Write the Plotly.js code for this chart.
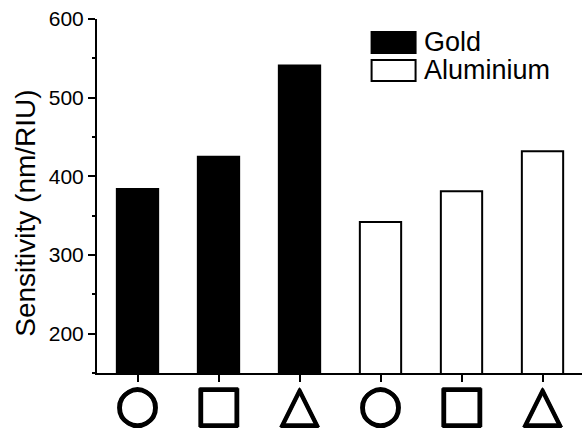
<!DOCTYPE html>
<html>
<head>
<meta charset="utf-8">
<script src="https://cdn.plot.ly/plotly-3.0.1.min.js"></script>
<style>
html, body { margin: 0; padding: 0; overflow: hidden; background: #fff; }
#chart { width: 583px; height: 428px; }
</style>
</head>
<body>
<div id="chart"></div>
<script>
// ---- data ----
var categories = ['gold-circle', 'gold-square', 'gold-triangle', 'al-circle', 'al-square', 'al-triangle'];
var tickLabels = ['\u25CB', '\u25A1', '\u25B3', '\u25CB', '\u25A1', '\u25B3'];
var goldCategories = ['gold-circle', 'gold-square', 'gold-triangle'];
var goldValues = [384, 425, 541];
var aluminiumCategories = ['al-circle', 'al-square', 'al-triangle'];
var aluminiumValues = [342, 381, 432];
var seriesNames = ['Gold', 'Aluminium'];
var yTitle = 'Sensitivity (nm/RIU)';
var yRange = [150, 600];
var yTicks = [200, 300, 400, 500, 600];

var textFont = 'Liberation Sans, Arial, Helvetica, sans-serif';

var traces = [
  {
    type: 'bar', name: seriesNames[0], x: goldCategories, y: goldValues,
    width: 0.51, marker: { color: '#000', line: { color: '#000', width: 2 } },
    showlegend: false, hoverinfo: 'x+y'
  },
  {
    type: 'bar', name: seriesNames[1], x: aluminiumCategories, y: aluminiumValues,
    width: 0.51, marker: { color: '#fff', line: { color: '#000', width: 2 } },
    showlegend: false, hoverinfo: 'x+y'
  }
];

var layout = {
  width: 583, height: 428,
  margin: { l: 97, r: 0, t: 19, b: 55, pad: 0 },
  paper_bgcolor: '#fff', plot_bgcolor: '#fff',
  barmode: 'overlay',
  showlegend: false,
  font: { family: textFont, color: '#000' },
  xaxis: {
    type: 'category', categoryorder: 'array', categoryarray: categories,
    range: [-0.5, 5.5], tickvals: categories, ticktext: tickLabels,
    tickfont: { family: 'DejaVu Sans', size: 51, color: '#000', weight: 'bold',
      shadow: '1px 0 0 #000, -1px 0 0 #000, 0 1px 0 #000, 0 -1px 0 #000' },
    ticklabelstandoff: -22,
    ticks: 'outside', ticklen: 7, tickwidth: 2, tickcolor: '#000',
    showline: true, linewidth: 2, linecolor: '#000',
    showgrid: false, zeroline: false, fixedrange: true
  },
  xaxis2: {
    overlaying: 'x', side: 'top', type: 'linear', range: [-0.5, 5.5],
    tickvals: [0, 1, 2, 3, 4, 5], showticklabels: false,
    ticks: 'inside', ticklen: 7, tickwidth: 2, tickcolor: '#000',
    showline: true, linewidth: 2, linecolor: '#000',
    showgrid: false, zeroline: false, fixedrange: true
  },
  yaxis: {
    range: yRange, tickvals: yTicks,
    tickfont: { family: textFont, size: 21, color: '#000' },
    ticks: 'outside', ticklen: 7, tickwidth: 2, tickcolor: '#000',
    minor: { dtick: 50, tick0: 0, ticks: 'outside', ticklen: 3, tickwidth: 2, tickcolor: '#000', showgrid: false },
    showline: true, linewidth: 2, linecolor: '#000',
    showgrid: false, zeroline: false, fixedrange: true
  },
  yaxis2: {
    overlaying: 'y', side: 'right', range: yRange, tickvals: yTicks,
    showticklabels: false,
    ticks: 'inside', ticklen: 7, tickwidth: 2, tickcolor: '#000',
    minor: { dtick: 50, tick0: 0, ticks: 'inside', ticklen: 3, tickwidth: 2, tickcolor: '#000', showgrid: false },
    showline: true, linewidth: 2, linecolor: '#000',
    showgrid: false, zeroline: false, fixedrange: true
  },
  shapes: [
    { type: 'rect', xref: 'paper', yref: 'paper', x0: 0.565, x1: 0.6555, y0: 0.904, y1: 0.9635,
      fillcolor: '#000', line: { color: '#000', width: 2 } },
    { type: 'rect', xref: 'paper', yref: 'paper', x0: 0.565, x1: 0.6555, y0: 0.825, y1: 0.884,
      fillcolor: '#fff', line: { color: '#000', width: 2 } }
  ],
  annotations: [
    { xref: 'paper', yref: 'paper', x: 0.668, y: 0.934, xanchor: 'left', yanchor: 'middle',
      text: seriesNames[0], showarrow: false, font: { family: textFont, size: 27, color: '#000' } },
    { xref: 'paper', yref: 'paper', x: 0.668, y: 0.855, xanchor: 'left', yanchor: 'middle',
      text: seriesNames[1], showarrow: false, font: { family: textFont, size: 27, color: '#000' } },
    { xref: 'paper', yref: 'paper', x: -0.146, y: 0.45, xanchor: 'center', yanchor: 'middle',
      textangle: -90, text: yTitle, showarrow: false, font: { family: textFont, size: 28, color: '#000' } }
  ]
};

Plotly.newPlot('chart', traces, layout, { staticPlot: true, displayModeBar: false });
</script>
</body>
</html>
